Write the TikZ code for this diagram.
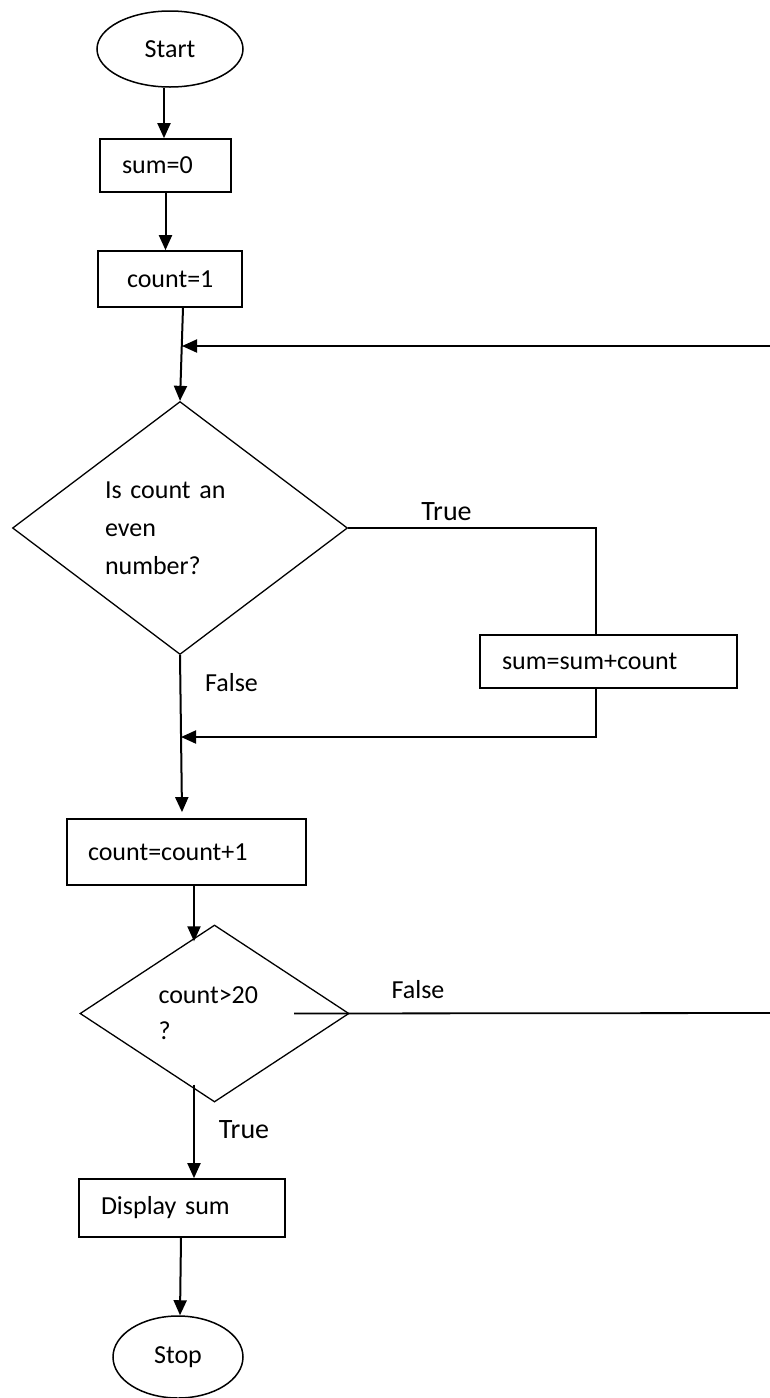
\documentclass[tikz,border=0pt]{standalone}
\usepackage{fontspec}
\setmainfont{Carlito}
\usetikzlibrary{shapes.geometric,arrows.meta}

\begin{document}
\begin{tikzpicture}[x=1pt, y=-1pt]
    % Stili
    \tikzset{
        term/.style={ellipse, draw, line width=1.5pt, inner sep=0pt,
                     font=\fontsize{26}{31}\selectfont},
        proc/.style={rectangle, draw, line width=1.7pt, inner xsep=22pt,
                     inner ysep=0pt, align=left,
                     font=\fontsize{26}{31}\selectfont},
        test/.style={diamond, draw, line width=1.3pt, inner sep=0pt,
                     align=left},
        arr/.style={-{Triangle[width=13pt,length=15pt]}, line width=2pt},
        line/.style={line width=1.8pt},
        lbl/.style={font=\fontsize{26}{31}\selectfont, inner sep=0pt}
    }
    \useasboundingbox (0,0) rectangle (770,1398);

    % Inizio e inizializzazione
    \node[term, minimum width=146pt, minimum height=76pt] (start) at (170,49) {Start};
    \node[proc, text width=87pt, minimum height=53pt] (sum0) at (165.5,165.5) {sum=0};
    \node[proc, inner xsep=29pt, text width=86pt, minimum height=56pt] (count1) at (170,279) {count=1};

    % Test pari
    \node[test, shape aspect=1.32, minimum width=335pt, minimum height=253pt,
          text width=150pt, font=\fontsize{26}{38}\selectfont] (even) at (180,528)
        {Is count an\\even\\number?};
    \node[proc, text width=213pt, minimum height=53pt] (sumsum) at (608.5,661.5) {sum=sum+count};

    % Incremento e test fine
    \node[proc, inner xsep=21pt, text width=197pt, minimum height=66pt] (countinc) at (186.5,852) {count=count+1};
    \node[test, shape aspect=1.52, minimum width=269pt, minimum height=177pt,
          text width=112pt, font=\fontsize{26}{36}\selectfont] (gt20) at (214.5,1013.5)
        {count>20\\?};

    % Uscita
    \node[proc, text width=162pt, minimum height=58pt] (display) at (182,1208) {Display sum};
    \node[term, minimum width=130pt, minimum height=82pt] (stop) at (178,1357) {Stop};

    % Punti di ritorno
    \coordinate (loopR) at (770,346);
    \coordinate (join1) at (182,346);
    \coordinate (join2) at (181,737);
    \coordinate (exitR) at (770,1013);

    % Connessioni
    \draw[arr] ([xshift=-6pt]start.south) -- ([xshift=-1.5pt]sum0.north);
    \draw[arr] (sum0.south) -- (sum0.south |- count1.north);
    \draw[arr] ([xshift=13pt]count1.south) -- (even.north);
    \draw[arr] (loopR) -- (join1);
    \draw[line] (even.east) -| ([xshift=-12.5pt]sumsum.north);
    \draw[arr] ([xshift=-12.5pt]sumsum.south) |- (join2);
    \draw[arr] (even.south) -- ([xshift=-4.5pt,yshift=6pt]countinc.north);
    \draw[arr] ([xshift=7.5pt]countinc.south) -- ([xshift=-20.5pt,yshift=-17pt]gt20.north);
    \draw[line] ([xshift=79.5pt]gt20.center) -- (exitR);
    \draw[arr] ([xshift=-20.5pt,yshift=18pt]gt20.south) -- ([xshift=12pt]display.north);
    \draw[arr] ([xshift=-1pt]display.south) -- ([xshift=2pt]stop.north);

    % Etichette
    \node[lbl, font=\fontsize{28}{33}\selectfont] (ltrue1) at (446.5,512) {True};
    \node[lbl] (lfalse1) at (231.5,683) {False};
    \node[lbl] (lfalse2) at (418,990) {False};
    \node[lbl, font=\fontsize{28}{33}\selectfont] (ltrue2) at (244,1130) {True};
\end{tikzpicture}
\end{document}
